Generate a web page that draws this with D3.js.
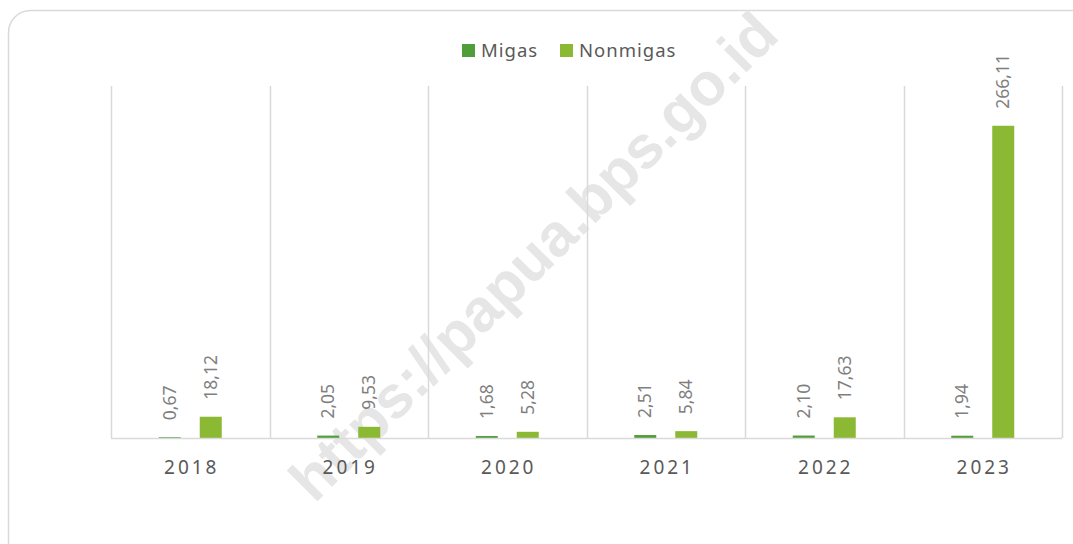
<!DOCTYPE html>
<html>
<head>
<title>Migas / Nonmigas</title>
<style>
body { margin: 0; font-family: "Noto Sans", sans-serif; }
</style>
</head>
<body>

<div id="chart"></div>

<script src="https://d3js.org/d3.v7.min.js"></script>
<script>
const width = 1073;
const height = 544;

const years = ["2018", "2019", "2020", "2021", "2022", "2023"];
const seriesNames = ["Migas", "Nonmigas"];
const migas = [0.67, 2.05, 1.68, 2.51, 2.10, 1.94];
const nonmigas = [18.12, 9.53, 5.28, 5.84, 17.63, 266.11];
const colors = ["#4f9e3a", "#8cb933"];

const svg = d3.select("#chart")
  .append("svg")
  .attr("width", width)
  .attr("height", height);

svg.append("rect")
    .attr("width", width)
    .attr("height", height)
    .attr("fill", "#ffffff");

// Outer rounded frame (runs past the right/bottom edges)
svg.append("rect")
    .attr("x", 8.5)
    .attr("y", 10.5)
    .attr("width", 1120)
    .attr("height", 620)
    .attr("rx", 22)
    .attr("fill", "none")
    .attr("stroke", "#d9d9d9")
    .attr("stroke-width", 1.5);

// Watermark
svg.append("text")
    .attr("transform", "translate(533,256) rotate(-45)")
    .attr("text-anchor", "middle")
    .attr("dy", "0.35em")
    .attr("font-family", "Liberation Sans, Arial, sans-serif")
    .attr("font-weight", "bold")
    .attr("font-size", 60)
    .attr("fill", "#e6e6e6")
    .text("https://papua.bps.go.id");

const x = d3.scaleBand()
    .domain(years)
    .range([111, 1062]);

const y = d3.scaleLinear()
    .domain([0, 300])
    .range([438, 86]);

const xSub = d3.scalePoint()
    .domain(seriesNames)
    .range([-20.5, 20.5]);

const barWidth = 22;

// Vertical category separators
const bounds = years.map(d => x(d)).concat([x.range()[1]]);
svg.append("g")
  .selectAll("line")
  .data(bounds)
  .join("line")
    .attr("x1", d => Math.round(d) + 0.5)
    .attr("x2", d => Math.round(d) + 0.5)
    .attr("y1", y(300))
    .attr("y2", y(0))
    .attr("stroke", "#d9d9d9")
    .attr("stroke-width", 1.5);

// Bars
const rows = [];
years.forEach((yr, i) => {
    rows.push({ year: yr, series: "Migas", value: migas[i], color: colors[0] });
    rows.push({ year: yr, series: "Nonmigas", value: nonmigas[i], color: colors[1] });
});

svg.append("g")
  .selectAll("rect")
  .data(rows)
  .join("rect")
    .attr("x", d => x(d.year) + x.bandwidth() / 2 + xSub(d.series) - barWidth / 2)
    .attr("y", d => y(d.value))
    .attr("width", barWidth)
    .attr("height", d => y(0) - y(d.value))
    .attr("fill", d => d.color);

// Baseline
svg.append("line")
    .attr("x1", x.range()[0])
    .attr("x2", x.range()[1])
    .attr("y1", y(0) + 0.5)
    .attr("y2", y(0) + 0.5)
    .attr("stroke", "#d9d9d9")
    .attr("stroke-width", 1.5);

// Data labels (rotated)
svg.append("g")
  .selectAll("text")
  .data(rows)
  .join("text")
    .attr("transform", d => {
        const cx = x(d.year) + x.bandwidth() / 2 + xSub(d.series);
        return `translate(${cx},${y(d.value) - 17}) rotate(-90)`;
    })
    .attr("dy", "0.35em")
    .attr("text-anchor", "start")
    .attr("font-size", 17.5)
    .attr("fill", "#7f7f7f")
    .text(d => d3.format(".2f")(d.value).replace(".", ","));

// Category labels
const xAxis = svg.append("g")
    .attr("transform", `translate(0,${y(0)})`)
    .call(d3.axisBottom(x).tickSize(0).tickPadding(0));
xAxis.select(".domain").remove();
xAxis.selectAll("text")
    .attr("y", 36)
    .attr("dy", 0)
    .attr("dx", 1.5)
    .attr("font-family", "Noto Sans, sans-serif")
    .attr("font-size", 19)
    .attr("letter-spacing", 3)
    .attr("fill", "#595959");

// Legend
const legend = svg.append("g");
const legendX = [462, 560];
seriesNames.forEach((name, i) => {
    legend.append("rect")
        .attr("x", legendX[i])
        .attr("y", 44)
        .attr("width", 13)
        .attr("height", 13)
        .attr("fill", colors[i]);
    legend.append("text")
        .attr("x", legendX[i] + 19)
        .attr("y", 57)
        .attr("font-size", 18.5)
        .attr("letter-spacing", 1)
        .attr("fill", "#595959")
        .text(name);
});
</script>

</body>
</html>
